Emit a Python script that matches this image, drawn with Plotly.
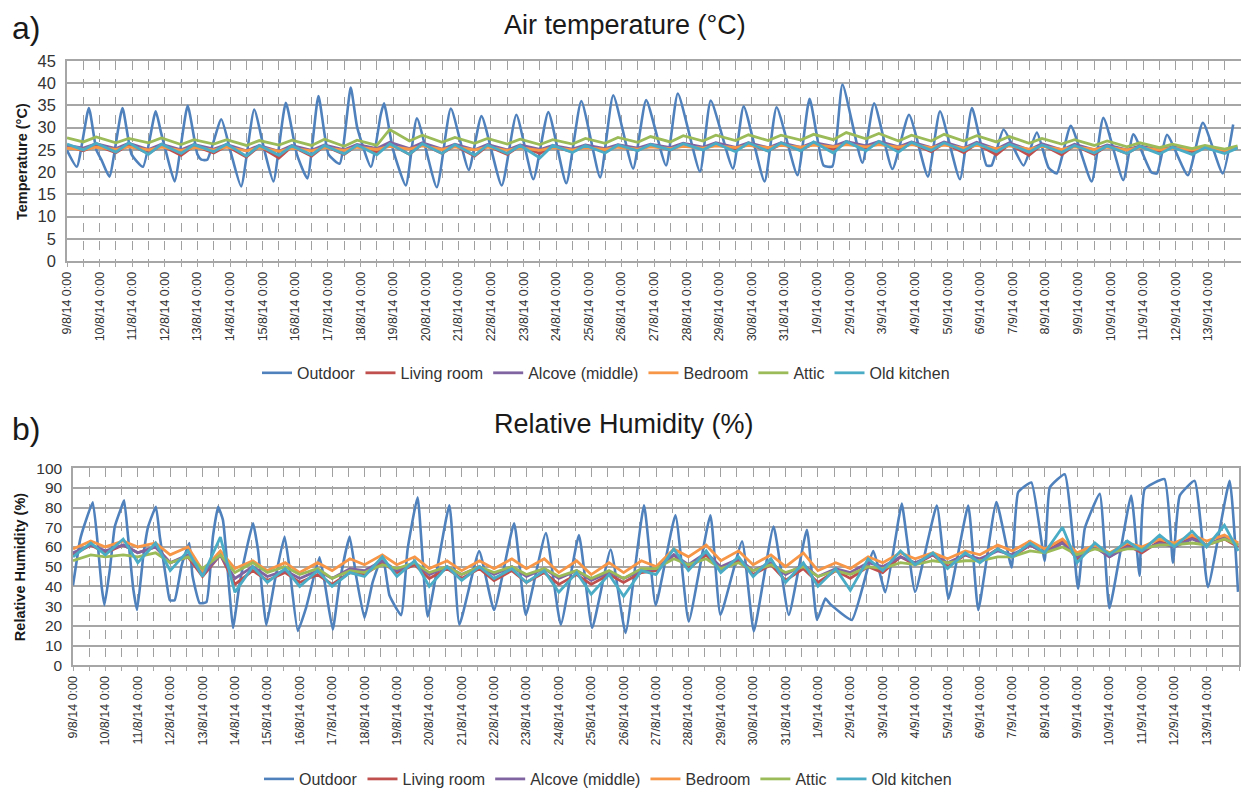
import plotly.graph_objects as go

# the page is drawn with the browser's default 8px body margin on every side
OFF = 8
W, H = 1249 - 2 * OFF, 804 - 2 * OFF

# ---------------- x-axis labels (one per day, 9/8/14 .. 13/9/14) ----------------
day_labels = ["9/8/14 0:00", "10/8/14 0:00", "11/8/14 0:00", "12/8/14 0:00", "13/8/14 0:00",
              "14/8/14 0:00", "15/8/14 0:00", "16/8/14 0:00", "17/8/14 0:00", "18/8/14 0:00",
              "19/8/14 0:00", "20/8/14 0:00", "21/8/14 0:00", "22/8/14 0:00", "23/8/14 0:00",
              "24/8/14 0:00", "25/8/14 0:00", "26/8/14 0:00", "27/8/14 0:00", "28/8/14 0:00",
              "29/8/14 0:00", "30/8/14 0:00", "31/8/14 0:00", "1/9/14 0:00", "2/9/14 0:00",
              "3/9/14 0:00", "4/9/14 0:00", "5/9/14 0:00", "6/9/14 0:00", "7/9/14 0:00",
              "8/9/14 0:00", "9/9/14 0:00", "10/9/14 0:00", "11/9/14 0:00", "12/9/14 0:00",
              "13/9/14 0:00"]
day_index = list(range(len(day_labels)))

series_names = ["Outdoor", "Living room", "Alcove (middle)", "Bedroom", "Attic", "Old kitchen"]
series_colors = ["#4F81BD", "#C0504D", "#8064A2", "#F79646", "#9BBB59", "#4BACC6"]

# ---------------- a) Air temperature: outdoor (time in days since 9/8 0:00) ----------------
out_t_day = [0.00, 0.30, 0.67, 0.90, 1.06, 1.30, 1.70, 1.98, 2.33, 2.72,
             2.88, 3.05, 3.30, 3.70, 4.00, 4.12, 4.30, 4.73, 5.02, 5.34,
             5.74, 6.05, 6.33, 6.71, 7.05, 7.37, 7.71, 8.02, 8.36, 8.70,
             8.90, 9.32, 9.62, 9.72, 10.00, 10.39, 10.73, 11.34, 11.77, 12.32,
             12.71, 13.33, 13.78, 14.30, 14.76, 15.31, 15.77, 16.35, 16.75, 17.36,
             17.76, 18.37, 18.73, 19.41, 19.74, 20.42, 20.75, 21.39, 21.76, 22.40,
             22.77, 23.20, 23.47, 23.78, 24.39, 24.75, 25.31, 25.82, 26.40, 26.77,
             27.38, 27.75, 28.20, 28.35, 28.72, 29.33, 29.74, 30.10, 30.35, 30.78,
             31.42, 31.78, 32.39, 32.70, 33.25, 33.42, 33.73, 34.37, 34.83, 35.44,
             35.76]
out_t_val = [24.9, 21.2, 34.4, 25.0, 22.7, 19.0, 34.4, 24.0, 21.2, 33.7,
             29.0, 24.2, 17.9, 34.9, 24.0, 22.8, 22.8, 31.9, 24.5, 16.8,
             34.1, 25.0, 17.9, 35.6, 24.0, 18.6, 37.1, 24.0, 21.9, 39.0,
             30.0, 21.2, 32.9, 35.5, 25.0, 17.0, 32.1, 16.6, 34.3, 20.5,
             32.6, 17.0, 32.9, 18.4, 33.5, 17.5, 36.0, 18.8, 37.3, 20.8,
             36.2, 21.5, 37.7, 20.1, 36.1, 20.8, 34.8, 17.9, 34.6, 19.3,
             36.5, 21.5, 21.3, 39.7, 22.1, 35.5, 20.7, 32.9, 19.0, 33.7,
             18.4, 34.4, 21.5, 21.5, 29.6, 21.5, 28.9, 21.0, 19.7, 30.4,
             17.9, 32.2, 18.2, 28.5, 20.0, 19.7, 28.4, 19.3, 31.1, 19.7,
             30.7]

# indoor temperatures: start value, daily minimum (around midday) and daily maximum (late evening)
t_start = [25.8, 26.0, 25.4, 27.7, 26.3]
lr_t_min = [24.8, 24.4, 24.2, 23.8, 24.3, 23.4, 23.2, 23.6, 24.0, 24.4, 24.0, 24.2, 23.6, 24.0, 24.2, 24.6, 24.6, 24.9,
            25.0, 25.2, 25.1, 24.8, 25.0, 25.2, 25.4, 25.0, 24.6, 24.4, 23.9, 23.8, 23.9, 24.0, 24.2, 24.4, 24.6, 24.6]
lr_t_max = [26.0, 26.2, 26.0, 25.9, 25.9, 25.8, 25.8, 25.9, 26.0, 26.4, 26.3, 26.0, 25.9, 25.9, 25.8, 25.9, 26.0, 26.1,
            26.2, 26.3, 26.3, 26.3, 26.4, 26.5, 26.6, 26.5, 26.5, 26.4, 26.3, 26.2, 26.0, 25.9, 25.8, 25.6, 25.5, 25.4]
al_t_min = [25.4, 25.3, 25.1, 25.0, 25.2, 24.8, 24.7, 24.9, 25.0, 25.3, 25.3, 25.2, 25.0, 25.0, 25.1, 25.2, 25.3, 25.4,
            25.5, 25.6, 25.6, 25.5, 25.6, 25.8, 25.9, 25.7, 25.5, 25.4, 25.2, 25.0, 25.0, 25.0, 25.0, 25.0, 25.0, 24.9]
al_t_max = [26.4, 26.5, 26.3, 26.2, 26.2, 26.0, 26.0, 26.1, 26.2, 26.7, 26.6, 26.3, 26.2, 26.1, 26.0, 26.1, 26.2, 26.3,
            26.5, 26.6, 26.6, 26.6, 26.7, 26.9, 26.9, 26.8, 26.8, 26.7, 26.6, 26.4, 26.3, 26.1, 25.9, 25.7, 25.5, 25.4]
bd_t_min = [25.1, 25.1, 25.0, 24.9, 25.0, 24.8, 24.7, 24.8, 24.9, 25.1, 25.2, 25.1, 25.0, 24.9, 24.9, 25.0, 25.1, 25.2,
            25.3, 25.4, 25.5, 25.5, 25.6, 25.7, 25.7, 25.6, 25.5, 25.4, 25.3, 25.2, 25.1, 25.1, 25.0, 25.0, 25.0, 24.9]
bd_t_max = [25.6, 25.7, 25.6, 25.5, 25.6, 25.5, 25.4, 25.5, 25.6, 25.8, 25.9, 25.7, 25.6, 25.5, 25.5, 25.5, 25.6, 25.7,
            25.8, 25.9, 26.0, 26.0, 26.1, 26.2, 26.2, 26.2, 26.1, 26.0, 25.9, 25.8, 25.7, 25.6, 25.5, 25.4, 25.4, 25.3]
at_t_min = [26.8, 26.6, 26.6, 26.2, 26.3, 26.0, 26.1, 26.0, 25.8, 26.0, 27.0, 26.7, 26.5, 26.3, 26.2, 26.3, 26.5, 26.7,
            26.8, 27.0, 27.1, 27.1, 27.2, 27.3, 27.5, 27.0, 27.0, 27.0, 26.8, 26.5, 26.3, 26.0, 25.7, 25.5, 25.3, 25.2]
at_t_max = [27.9, 27.6, 27.7, 27.3, 27.3, 27.1, 27.2, 27.4, 27.2, 29.6, 28.3, 27.8, 27.6, 27.4, 27.3, 27.6, 27.8, 28.0,
            28.2, 28.3, 28.4, 28.3, 28.5, 28.9, 28.7, 28.3, 28.5, 28.2, 28.0, 27.6, 27.3, 27.0, 26.6, 26.3, 26.0, 25.9]
ok_t_min = [25.0, 24.5, 24.0, 24.2, 24.6, 23.6, 23.8, 23.9, 24.1, 23.9, 24.0, 24.2, 23.8, 24.2, 23.2, 24.4, 24.3, 24.8,
            25.0, 25.0, 24.6, 24.7, 24.8, 24.3, 24.8, 24.5, 24.9, 24.8, 24.6, 24.5, 24.4, 24.3, 24.2, 24.1, 24.0, 24.2]
ok_t_max = [26.5, 26.6, 26.3, 26.2, 26.3, 26.0, 25.9, 26.0, 26.1, 26.4, 26.4, 26.2, 26.1, 26.0, 26.0, 26.0, 26.1, 26.2,
            26.4, 26.5, 26.6, 26.6, 26.8, 26.9, 26.9, 26.7, 26.6, 26.5, 26.3, 26.1, 26.0, 25.9, 25.8, 25.6, 25.5, 25.4]
t_min_hour, t_max_hour = 12, 21.5

# ---------------- b) Relative humidity: outdoor ----------------
out_rh_day = [0.00, 0.22, 0.37, 0.61, 0.78, 0.88, 0.97,
              1.14, 1.29, 1.50, 1.58, 1.70, 1.86, 1.98,
              2.17, 2.32, 2.56, 2.68, 2.89, 2.99,
              3.14, 3.35, 3.59, 3.69, 3.91,
              4.12, 4.32, 4.48, 4.63, 4.84, 4.94,
              5.15, 5.40, 5.56, 5.71, 5.97,
              6.22, 6.53, 6.69, 6.94,
              7.20, 7.61, 7.77, 8.02,
              8.23, 8.54, 8.74, 9.00,
              9.25, 9.56, 9.77, 10.13,
              10.33, 10.64, 10.95,
              11.62, 11.93, 12.54, 13.00,
              13.62, 13.98, 14.60, 15.06,
              15.62, 16.03, 16.60, 17.06,
              17.63, 17.99, 18.60, 19.01,
              19.68, 19.99, 20.66, 21.02,
              21.63, 22.10, 22.66, 22.97,
              23.23, 23.38, 24.05, 24.71, 25.08,
              25.50, 25.59, 26.00, 26.67, 27.03,
              27.64, 27.95, 28.51, 28.98, 29.18,
              29.59, 30.00, 30.16, 30.62, 31.03,
              31.24, 31.70, 32.00, 32.67, 32.93,
              33.09, 33.70, 33.96, 34.17, 34.63,
              35.04, 35.71, 35.97]
out_rh_val = [40.5, 63.7, 72.0, 82.7, 58.7, 40.5, 30.5,
              48.8, 70.3, 80.3, 83.6, 65.3, 38.8, 28.0,
              55.4, 70.3, 80.3, 65.3, 42.1, 33.0,
              33.0, 50.4, 62.0, 45.4, 31.5,
              32.0, 65.3, 80.3, 73.6, 35.5, 18.9,
              42.0, 62.0, 72.0, 58.7, 20.4,
              42.0, 65.3, 48.8, 17.4,
              29.4, 54.7, 42.0, 18.0,
              42.0, 65.3, 45.4, 23.9,
              42.0, 55.7, 35.5, 25.4,
              58.7, 85.2, 24.7,
              81.1, 20.6, 57.9, 28.0,
              72.0, 25.5, 67.0, 20.6,
              66.0, 18.9, 58.7, 16.4,
              81.1, 30.5, 76.1, 22.2,
              76.1, 25.5, 62.8, 17.2,
              70.3, 25.5, 68.7, 23.0,
              33.8, 31.0, 23.0, 57.9, 37.0,
              75.0, 82.0, 37.2, 81.0, 33.8,
              81.0, 28.0, 82.8, 49.6, 87.7,
              92.7, 52.9, 90.2, 96.9, 38.8,
              69.5, 86.9, 28.9, 86.1, 45.4,
              89.4, 94.4, 52.0, 86.0, 93.5,
              39.6, 93.5, 37.2]

# indoor RH: low at the start of each day (37 values), high in the afternoon (36 values)
lr_rh_lo = [56, 57, 57, 52, 45, 41, 43, 42, 41, 46, 47, 44, 44, 43, 42, 41, 41, 42, 48,
            49, 48, 46, 43, 42, 44, 47, 51, 50, 53, 55, 57, 54, 55, 57, 60, 61, 60]
lr_rh_hi = [61, 61, 60, 55, 56, 48, 47, 46, 47, 52, 51, 49, 49, 48, 47, 46, 46, 47,
            56, 56, 53, 51, 49, 48, 50, 55, 56, 56, 59, 61, 63, 60, 61, 63, 65, 64]
al_rh_lo = [57, 58, 57, 52, 46, 44, 45, 44, 44, 48, 48, 46, 46, 46, 45, 44, 43, 44, 49,
            51, 50, 48, 46, 45, 47, 50, 52, 52, 54, 56, 57, 55, 55, 58, 60, 61, 61]
al_rh_hi = [61, 61, 60, 56, 56, 50, 48, 48, 49, 53, 52, 50, 50, 50, 49, 48, 47, 48,
            56, 57, 54, 52, 51, 49, 52, 55, 56, 56, 58, 61, 62, 60, 60, 62, 64, 65]
bd_rh_lo = [59, 60, 60, 56, 48, 49, 48, 47, 48, 51, 51, 49, 48, 49, 49, 47, 46, 47, 50,
            55, 53, 51, 50, 48, 49, 52, 54, 54, 56, 58, 59, 57, 57, 60, 62, 63, 62]
bd_rh_hi = [63, 63, 62, 60, 58, 53, 52, 52, 54, 56, 55, 53, 53, 54, 54, 53, 52, 53,
            59, 61, 58, 56, 57, 52, 55, 57, 57, 58, 61, 63, 64, 61, 62, 64, 66, 66]
at_rh_lo = [53, 55, 55, 52, 49, 47, 47, 46, 44, 47, 49, 47, 46, 47, 46, 45, 44, 44, 49,
            51, 49, 48, 47, 45, 46, 49, 51, 52, 53, 55, 57, 56, 57, 59, 61, 61, 61]
at_rh_hi = [56, 56, 57, 55, 56, 52, 50, 49, 48, 51, 52, 50, 50, 50, 49, 48, 48, 49,
            54, 54, 52, 51, 50, 48, 50, 52, 53, 53, 55, 58, 60, 59, 59, 61, 62, 64]
ok_rh_lo = [55, 56, 52, 48, 45, 37, 42, 40, 40, 45, 45, 40, 43, 44, 42, 37, 36, 35, 46,
            48, 47, 45, 42, 40, 38, 48, 51, 49, 52, 55, 57, 52, 56, 58, 60, 60, 58]
ok_rh_hi = [62, 64, 62, 58, 65, 50, 49, 48, 47, 55, 53, 50, 50, 49, 48, 47, 46, 48,
            59, 58, 55, 54, 52, 49, 54, 58, 57, 57, 59, 62, 70, 62, 63, 66, 68, 71]
rh_hi_hour = 13.2


def temp_series(start, mins, maxs):
    xs, ys = [0.0], [start]
    for d in range(len(mins)):
        xs += [d + t_min_hour / 24, d + t_max_hour / 24]
        ys += [mins[d], maxs[d]]
    return xs, ys


def rh_series(lows, highs):
    xs, ys = [], []
    for d in range(len(highs)):
        xs += [d + 0.0, d + rh_hi_hour / 24]
        ys += [lows[d], highs[d]]
    xs.append(35.98)
    ys.append(lows[-1])
    return xs, ys


fig = go.Figure()

# ---- top chart traces
fig.add_trace(go.Scatter(x=out_t_day, y=out_t_val, name=series_names[0], mode="lines",
                         line=dict(color=series_colors[0], width=2.6, shape="spline", smoothing=0.5),
                         xaxis="x", yaxis="y", legend="legend"))
indoor_t = [(lr_t_min, lr_t_max), (al_t_min, al_t_max), (bd_t_min, bd_t_max),
            (at_t_min, at_t_max), (ok_t_min, ok_t_max)]
for i, (mn, mx) in enumerate(indoor_t):
    xs, ys = temp_series(t_start[i], mn, mx)
    fig.add_trace(go.Scatter(x=xs, y=ys, name=series_names[i + 1], mode="lines",
                             line=dict(color=series_colors[i + 1], width=2.8), xaxis="x", yaxis="y",
                             legend="legend"))

# ---- bottom chart traces
fig.add_trace(go.Scatter(x=out_rh_day, y=out_rh_val, name=series_names[0], mode="lines",
                         line=dict(color=series_colors[0], width=2.6, shape="spline", smoothing=0.4),
                         xaxis="x2", yaxis="y2", legend="legend2"))
indoor_rh = [(lr_rh_lo, lr_rh_hi), (al_rh_lo, al_rh_hi), (bd_rh_lo, bd_rh_hi),
             (at_rh_lo, at_rh_hi), (ok_rh_lo, ok_rh_hi)]
for i, (lo, hi) in enumerate(indoor_rh):
    xs, ys = rh_series(lo, hi)
    fig.add_trace(go.Scatter(x=xs, y=ys, name=series_names[i + 1], mode="lines",
                             line=dict(color=series_colors[i + 1], width=2.8), xaxis="x2", yaxis="y2",
                             legend="legend2"))

FONT = "Liberation Sans, Arial, sans-serif"
GRID = "#A6A6A6"
VGRID = "#A0A0A0"
TXT = "#333333"


def px_x(p):
    return (p - OFF) / W


def px_y(p):
    return 1 - (p - OFF) / H


def xaxis_cfg(domain, anchor):
    return dict(domain=domain, anchor=anchor, range=[0, 36], tickmode="array",
                tickvals=day_index, ticktext=day_labels, tickangle=-90,
                tickfont=dict(family=FONT, size=12.5, color=TXT),
                showgrid=True, gridcolor=VGRID, griddash="dash", gridwidth=1,
                minor=dict(dtick=0.5, tick0=0, showgrid=True, gridcolor=VGRID, griddash="dash",
                           gridwidth=1, ticks="outside", ticklen=4, tickcolor=GRID),
                ticks="outside", ticklen=4, tickcolor=GRID,
                showline=True, linecolor=GRID, linewidth=1.5, mirror=True, zeroline=False,
                automargin=False)


def yaxis_cfg(domain, anchor, rng, dtick, fsize):
    return dict(domain=domain, anchor=anchor, range=rng, dtick=dtick, tick0=0,
                tickfont=dict(family=FONT, size=fsize, color=TXT), ticklabelstandoff=6,
                showgrid=True, gridcolor=GRID, gridwidth=1.5,
                showline=True, linecolor=GRID, linewidth=1.5, mirror=True, zeroline=False,
                ticks="", automargin=False)


fig.update_layout(
    width=W, height=H, autosize=False,
    margin=dict(l=0, r=0, t=0, b=0),
    paper_bgcolor="white", plot_bgcolor="white",
    font=dict(family=FONT, color=TXT),
    xaxis=xaxis_cfg([px_x(67), px_x(1241)], "y"),
    yaxis=yaxis_cfg([px_y(266), px_y(62)], "x", [0, 45], 5, 16.5),
    xaxis2=xaxis_cfg([px_x(73), px_x(1239)], "y2"),
    yaxis2=yaxis_cfg([px_y(678), px_y(477)], "x2", [0, 100], 10, 15.5),
    legend=dict(orientation="h", x=px_x(606), xanchor="center", y=px_y(380), yanchor="middle",
                font=dict(family=FONT, size=16, color=TXT), bgcolor="rgba(0,0,0,0)",
                itemwidth=30, tracegroupgap=0),
    legend2=dict(orientation="h", x=px_x(608), xanchor="center", y=px_y(794), yanchor="middle",
                 font=dict(family=FONT, size=16, color=TXT), bgcolor="rgba(0,0,0,0)",
                 itemwidth=30, tracegroupgap=0),
    showlegend=True,
)

annotations = [
    dict(text="a)", x=px_x(10), y=1.0, xanchor="left", yanchor="top",
         font=dict(family=FONT, size=32, color="#1a1a1a")),
    dict(text="Air temperature (°C)", x=px_x(625), y=1.0, xanchor="center", yanchor="top",
         font=dict(family=FONT, size=27, color="#1a1a1a")),
    dict(text="b)", x=px_x(10), y=px_y(437), xanchor="left", yanchor="middle",
         font=dict(family=FONT, size=32, color="#1a1a1a")),
    dict(text="Relative Humidity (%)", x=px_x(624), y=px_y(432), xanchor="center", yanchor="middle",
         font=dict(family=FONT, size=27, color="#1a1a1a")),
    dict(text="<b>Temperature (°C)</b>", x=px_x(22), y=px_y(165), xanchor="center", yanchor="middle",
         textangle=-90, font=dict(family=FONT, size=14.5, color="#1a1a1a")),
    dict(text="<b>Relative Humidity (%)</b>", x=px_x(20), y=px_y(578), xanchor="center", yanchor="middle",
         textangle=-90, font=dict(family=FONT, size=14.5, color="#1a1a1a")),
]
for a in annotations:
    a.update(xref="paper", yref="paper", showarrow=False)
fig.update_layout(annotations=annotations)

fig.write_html("out.html")
